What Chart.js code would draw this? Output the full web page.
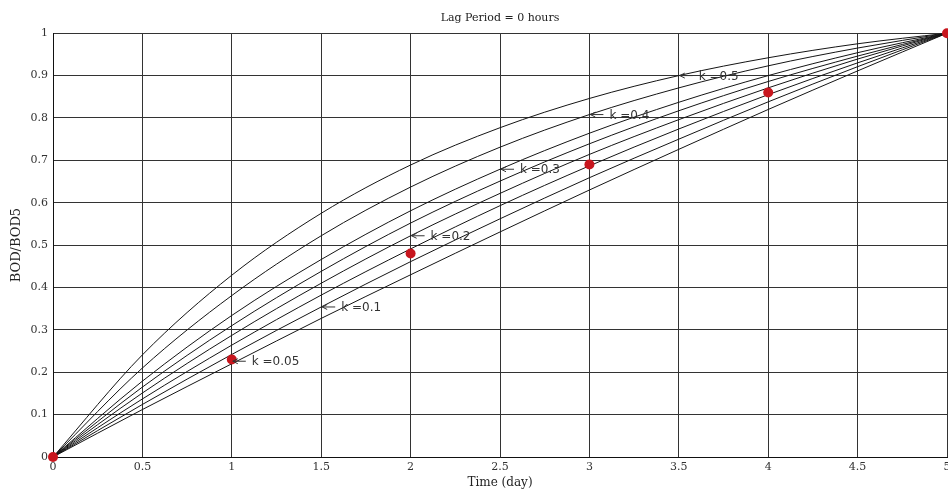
<!DOCTYPE html>
<html>
<head>
<meta charset="utf-8">
<script src="https://cdn.jsdelivr.net/npm/chart.js@4.4.1/dist/chart.umd.min.js"></script>
<style>
	html, body { margin: 0; padding: 0; background: #fff; overflow: hidden; }
	#wrap { width: 957px; height: 493px; }
</style>
</head>
<body>
<div id="wrap"><canvas id="chart-bod-ratio" width="957" height="493"></canvas></div>
<script>
// values, BOD/BOD5 at each half day
const TIME_DAYS = [0, 0.5, 1, 1.5, 2, 2.5, 3, 3.5, 4, 4.5, 5];
const K_VALUES = [0.5, 0.4, 0.3, 0.25, 0.2, 0.15, 0.1, 0.05];

const BOD_K050 = [0, 0.241, 0.429, 0.575, 0.689, 0.777, 0.846, 0.900, 0.942, 0.975, 1];
const BOD_K040 = [0, 0.210, 0.381, 0.522, 0.637, 0.731, 0.808, 0.871, 0.923, 0.965, 1];
const BOD_K030 = [0, 0.179, 0.334, 0.466, 0.581, 0.679, 0.764, 0.837, 0.900, 0.954, 1];
const BOD_K025 = [0, 0.165, 0.310, 0.438, 0.552, 0.651, 0.739, 0.817, 0.886, 0.946, 1];
const BOD_K020 = [0, 0.151, 0.287, 0.410, 0.522, 0.622, 0.714, 0.796, 0.871, 0.939, 1];
const BOD_K015 = [0, 0.137, 0.264, 0.382, 0.491, 0.593, 0.687, 0.774, 0.855, 0.930, 1];
const BOD_K010 = [0, 0.124, 0.242, 0.354, 0.461, 0.562, 0.659, 0.750, 0.838, 0.921, 1];
const BOD_K005 = [0, 0.112, 0.220, 0.327, 0.430, 0.531, 0.630, 0.726, 0.820, 0.911, 1];

const OBS_DAYS = [0, 1, 2, 3, 4, 5];
const OBS_RATIO = [0, 0.23, 0.48, 0.69, 0.86, 1];

const LABEL_TEXT = ["k =0.5", "k =0.4", "k =0.3", "k =0.2", "k =0.1", "k =0.05"];
const LABEL_DAYS = [3.5, 3, 2.5, 2, 1.5, 1];
const LABEL_RATIO = [0.900, 0.808, 0.679, 0.522, 0.354, 0.226];

const X_TICK_STEP = 0.5;
const Y_TICK_STEP = 0.1;

const CURVES = [BOD_K050, BOD_K040, BOD_K030, BOD_K025, BOD_K020, BOD_K015, BOD_K010, BOD_K005];
const SERIF = "'DejaVu Serif', 'Liberation Serif', serif";

// matlab style tick text: 0, 0.5, 1 ... (no trailing .0)
const plainTick = (value) => String(Number(value.toFixed(2)));

const curveLabels = {
	id: "curveLabels",
	afterDraw(chart) {
		const { ctx, scales } = chart;
		ctx.save();
		ctx.strokeStyle = "#333";
		ctx.fillStyle = "#333";
		ctx.lineWidth = 1;
		ctx.font = "12px 'DejaVu Sans', sans-serif";
		ctx.textBaseline = "middle";
		LABEL_TEXT.forEach((text, i) => {
			const px = scales.x.getPixelForValue(LABEL_DAYS[i]);
			const py = scales.y.getPixelForValue(LABEL_RATIO[i]);
			ctx.beginPath();
			ctx.moveTo(px + 1, py);
			ctx.lineTo(px + 14, py);
			ctx.moveTo(px + 1, py);
			ctx.lineTo(px + 6, py - 2.5);
			ctx.moveTo(px + 1, py);
			ctx.lineTo(px + 6, py + 2.5);
			ctx.stroke();
			ctx.fillText(text, px + 20, py + 1);
		});
		ctx.restore();
	},
};

const datasets = K_VALUES.map((k, i) => ({
	label: "k = " + k,
	data: TIME_DAYS.map((t, j) => ({ x: t, y: CURVES[i][j] })),
	borderColor: "#151515",
	borderWidth: 1,
	pointRadius: 0,
	cubicInterpolationMode: "monotone",
	fill: false,
	order: 1,
}));

datasets.push({
	label: "Observed",
	data: OBS_DAYS.map((t, j) => ({ x: t, y: OBS_RATIO[j] })),
	showLine: false,
	pointRadius: 5,
	pointBackgroundColor: "#c8161e",
	pointBorderColor: "#c8161e",
	pointBorderWidth: 0,
	clip: false,
	order: 0,
});

new Chart(document.getElementById("chart-bod-ratio"), {
	type: "line",
	data: { datasets },
	options: {
		responsive: false,
		animation: false,
		devicePixelRatio: 1,
		layout: {
			padding: { left: 0, right: 10, top: 0, bottom: 0 },
		},
		plugins: {
			legend: { display: false },
			tooltip: { enabled: false },
			title: {
				display: true,
				text: "Lag Period = 0 hours",
				fullSize: false,
				color: "#222",
				font: { family: SERIF, size: 11, weight: "normal" },
				padding: { top: 12, bottom: 8 },
			},
		},
		scales: {
			x: {
				type: "linear",
				min: 0,
				max: 5,
				afterFit: (axis) => {
					axis.height = 36;
				},
				border: { color: "#111" },
				grid: { color: "#333", drawTicks: false },
				ticks: {
					stepSize: X_TICK_STEP,
					color: "#333",
					padding: 4,
					maxRotation: 0,
					font: { family: SERIF, size: 11 },
					callback: plainTick,
				},
				title: {
					display: true,
					text: "Time (day)",
					color: "#222",
					font: { family: SERIF, size: 12 },
					padding: { top: 0, bottom: 3 },
				},
			},
			y: {
				min: 0,
				max: 1,
				afterFit: (axis) => {
					axis.width = 53;
				},
				border: { color: "#111" },
				grid: { color: "#333", drawTicks: false },
				ticks: {
					stepSize: Y_TICK_STEP,
					color: "#333",
					padding: 5,
					font: { family: SERIF, size: 11 },
					callback: plainTick,
				},
				title: {
					display: true,
					text: "BOD/BOD5",
					color: "#222",
					font: { family: SERIF, size: 13 },
					padding: { top: 9, bottom: 0 },
				},
			},
		},
	},
	plugins: [curveLabels],
});
</script>
</body>
</html>
